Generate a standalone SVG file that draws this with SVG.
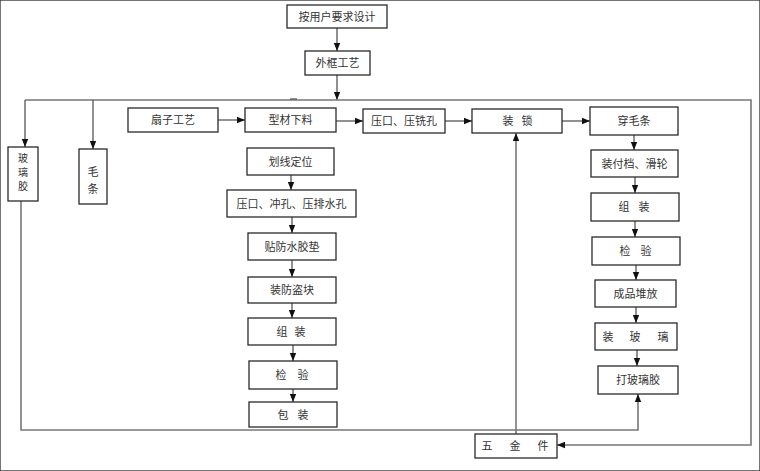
<svg xmlns="http://www.w3.org/2000/svg" width="760" height="471" viewBox="0 0 760 471">
<style>
rect{fill:#fff;stroke:#2a2a2a;stroke-width:1.3}
text{font-family:"Noto Sans CJK SC","Noto Sans",sans-serif;font-size:11px;fill:#333;text-anchor:middle}
.v{font-size:10px}
.c{fill:none;stroke:#555;stroke-width:1.3}
.g{fill:none;stroke:#777;stroke-width:1.6}
</style>
<defs>
<marker id="a" markerUnits="userSpaceOnUse" markerWidth="8" markerHeight="8" viewBox="0 0 8 8" refX="8" refY="4" orient="auto">
<path d="M0,0.8 L8,4 L0,7.2 Z" fill="#111"/>
</marker>
</defs>
<rect width="760" height="471" fill="#fff" stroke="none"/>
<g id="connectors">
<line class="c" x1="337" y1="28" x2="337" y2="51" marker-end="url(#a)"/>
<line class="c" x1="337" y1="75" x2="337" y2="100" marker-end="url(#a)"/>
<polyline class="g" points="25,100 751,100 751,445 557,445" marker-end="url(#a)"/>
<line class="c" x1="290" y1="99" x2="297" y2="99" stroke-width="2"/>
<line class="c" x1="25" y1="100" x2="25" y2="147" marker-end="url(#a)"/>
<line class="c" x1="93" y1="100" x2="93" y2="149" marker-end="url(#a)"/>
<line class="c" x1="218" y1="120" x2="245" y2="120" marker-end="url(#a)"/>
<line class="c" x1="336" y1="121" x2="363" y2="121" marker-end="url(#a)"/>
<line class="c" x1="445" y1="121" x2="472" y2="121" marker-end="url(#a)"/>
<line class="c" x1="562" y1="121" x2="590" y2="121" marker-end="url(#a)"/>
<line class="c" x1="634" y1="135" x2="634" y2="150" marker-end="url(#a)"/>
<line class="c" x1="635" y1="177" x2="635" y2="193" marker-end="url(#a)"/>
<line class="c" x1="635" y1="221" x2="635" y2="237" marker-end="url(#a)"/>
<line class="c" x1="636" y1="265" x2="636" y2="280" marker-end="url(#a)"/>
<line class="c" x1="636" y1="307" x2="636" y2="323" marker-end="url(#a)"/>
<line class="c" x1="637" y1="350" x2="637" y2="366" marker-end="url(#a)"/>
<line class="g" x1="516" y1="434" x2="516" y2="133" marker-end="url(#a)"/>
<polyline class="g" points="21,201 21,430 638,430 638,394" marker-end="url(#a)"/>
<line class="c" x1="291" y1="175" x2="291" y2="190" marker-end="url(#a)"/>
<line class="c" x1="292" y1="217" x2="292" y2="233" marker-end="url(#a)"/>
<line class="c" x1="292" y1="260" x2="292" y2="277" marker-end="url(#a)"/>
<line class="c" x1="292" y1="303" x2="292" y2="318" marker-end="url(#a)"/>
<line class="c" x1="293" y1="345" x2="293" y2="361" marker-end="url(#a)"/>
<line class="c" x1="293" y1="389" x2="293" y2="402" marker-end="url(#a)"/>
</g>
<g id="n1"><rect x="287" y="5" width="100" height="23"/><text x="337" y="20.5">按用户要求设计</text></g>
<g id="n2"><rect x="305" y="51" width="65" height="24"/><text x="337.5" y="67">外框工艺</text></g>
<g id="n3"><rect x="128" y="108" width="90" height="24"/><text x="173" y="124">扇子工艺</text></g>
<g id="n4"><rect x="245" y="108" width="91" height="24"/><text x="290.5" y="124">型材下料</text></g>
<g id="n5"><rect x="363" y="109" width="82" height="24"/><text x="404" y="125">压口、压铣孔</text></g>
<g id="n6"><rect x="472" y="109" width="90" height="24"/><text x="508 527" y="125">装锁</text></g>
<g id="n7"><rect x="590" y="107" width="88" height="28"/><text x="634" y="125">穿毛条</text></g>
<g id="n8"><rect x="591" y="150" width="87" height="27"/><text x="634.5" y="167.5">装付档、滑轮</text></g>
<g id="n9"><rect x="591" y="193" width="88" height="28"/><text x="624 644" y="211">组装</text></g>
<g id="n10"><rect x="592" y="237" width="88" height="28"/><text x="625 646" y="255">检验</text></g>
<g id="n11"><rect x="595" y="280" width="81" height="27"/><text x="635.5" y="297.5">成品堆放</text></g>
<g id="n12"><rect x="595" y="323" width="82" height="27"/><text x="608 635 663" y="340.5">装玻璃</text></g>
<g id="n13"><rect x="598" y="366" width="80" height="28"/><text x="638" y="384">打玻璃胶</text></g>
<g id="n14"><rect x="475" y="434" width="82" height="24"/><text x="487 515 543" y="450">五金件</text></g>
<g id="n15"><rect x="8" y="147" width="30" height="54"/><text class="v" x="23" y="162">玻</text><text class="v" x="23" y="176">璃</text><text class="v" x="23" y="190">胶</text></g>
<g id="n16"><rect x="79" y="149" width="28" height="55"/><text x="93" y="176">毛</text><text x="93" y="193">条</text></g>
<g id="n17"><rect x="247" y="148" width="87" height="27"/><text x="290.5" y="165.5">划线定位</text></g>
<g id="n18"><rect x="227" y="190" width="129" height="27"/><text x="291.5" y="207.5">压口、冲孔、压排水孔</text></g>
<g id="n19"><rect x="248" y="233" width="88" height="27"/><text x="292" y="250.5">贴防水胶垫</text></g>
<g id="n20"><rect x="248" y="277" width="88" height="26"/><text x="292" y="294">装防盗块</text></g>
<g id="n21"><rect x="248" y="318" width="88" height="27"/><text x="282 300" y="335.5">组装</text></g>
<g id="n22"><rect x="249" y="361" width="88" height="28"/><text x="281 303" y="379">检验</text></g>
<g id="n23"><rect x="249" y="402" width="88" height="25"/><text x="283 303" y="418.5">包装</text></g>
</svg>
